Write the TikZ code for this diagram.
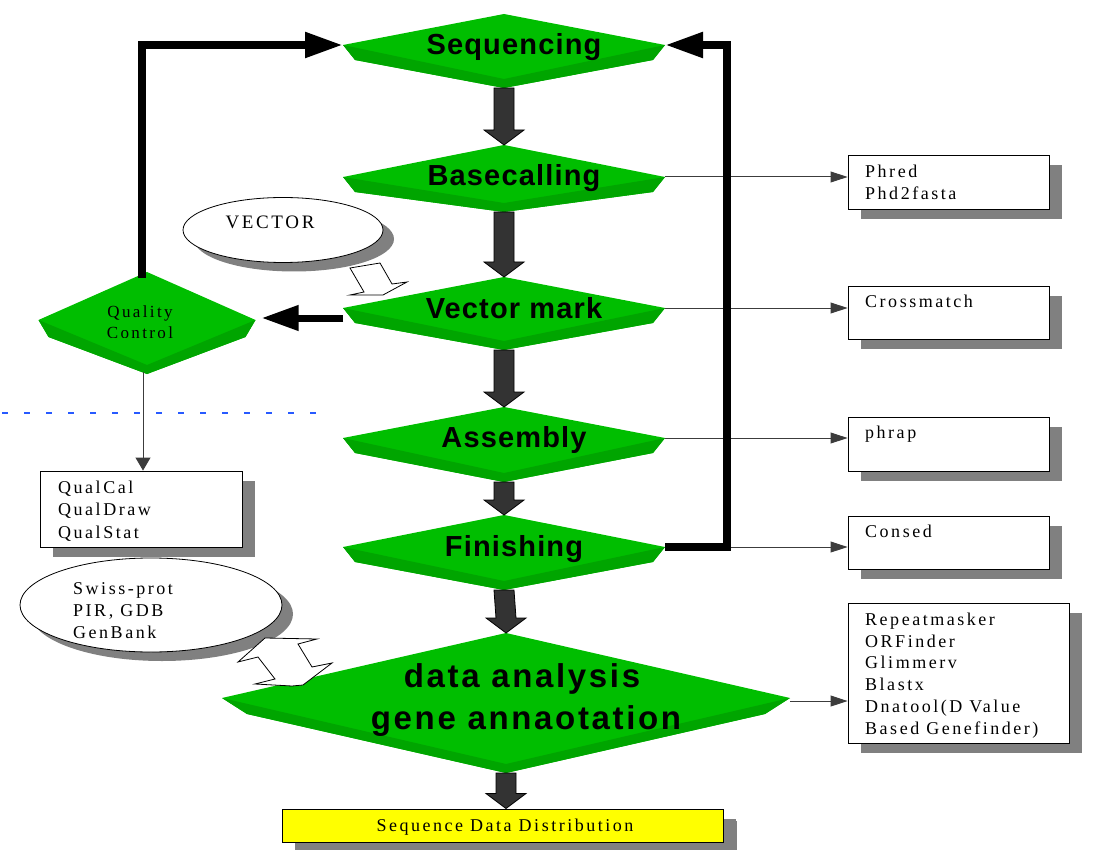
\documentclass[tikz,border=0pt]{standalone}
\usepackage{fontspec}
\setmainfont{Liberation Serif}
\newfontfamily\lsb{Liberation Sans}[LetterSpace=4]
\newfontfamily\lsbw{Liberation Sans}[LetterSpace=8]
\newfontfamily\ser{Liberation Serif}[LetterSpace=14]
\usetikzlibrary{calc,arrows.meta,shapes.geometric,shadows}
\definecolor{gmain}{RGB}{0,190,0}
\definecolor{gdark}{RGB}{0,165,0}
\definecolor{sgray}{RGB}{128,128,128}
\definecolor{agray}{RGB}{51,51,51}
\definecolor{lgray}{RGB}{60,60,60}
\definecolor{dblue}{RGB}{40,90,255}
\definecolor{ylw}{RGB}{255,255,0}
\newcommand\gdiam[8]{%
 \coordinate (#1-t) at (#2,#5);
 \coordinate (#1-b) at (#2,#6);
 \coordinate (#1-l) at ({#2-#4},#3);
 \coordinate (#1-r) at ({#2+#4},#3);
 \fill[gmain] (#1-t) -- (#1-r) -- ($(#1-r)+(-#7,#8)$) -- (#1-b) -- ($(#1-l)+(#7,#8)$) -- (#1-l) -- cycle;
 \fill[gdark] (#1-l) -- ($(#1-l)+(#7,#8)$) -- (#1-b) -- ($(#1-r)+(-#7,#8)$) -- (#1-r) -- ($(#1-b)+(0,-9)$) -- cycle;
}
\newcommand\vblock[2]{%
 \draw[blk] ($(#1)+(-10,0)$) -- ($(#1)+(10,0)$) -- ($(#2)+(10,-15)$) -- ($(#2)+(20,-15)$) -- (#2) -- ($(#2)+(-20,-15)$) -- ($(#2)+(-10,-15)$) -- cycle;
}
\begin{document}
\begin{tikzpicture}[x=1pt,y=-1pt,
  toolbox/.style={draw=black, line width=0.9pt, fill=white, rectangle, inner sep=0pt,
     drop shadow={shadow xshift=13pt, shadow yshift=-10pt, fill=sgray, opacity=1}},
  oval/.style={draw=black, line width=0.8pt, fill=white, ellipse, inner sep=0pt,
     drop shadow={shadow xshift=11pt, shadow yshift=-9pt, fill=sgray, opacity=1}},
  boxtext/.style={font=\ser\fontsize{18}{20}\selectfont, anchor=base west, inner sep=0pt},
  dlab/.style={font=\lsb\bfseries\fontsize{29}{32}\selectfont, anchor=base, inner sep=0pt},
  dlabbig/.style={font=\lsbw\bfseries\fontsize{33}{36}\selectfont, anchor=base, inner sep=0pt},
  blk/.style={fill=agray, draw=black, line width=0.8pt},
  hollow/.style={fill=white, draw=black, line width=0.8pt, line join=miter},
  thinarr/.style={draw=lgray, line width=1pt, -{Triangle[length=17pt,width=11pt]}},
  loopline/.style={draw=black, line width=8pt, -{Triangle[length=38pt,width=24pt]}},
  qcarr/.style={draw=black, line width=7pt, -{Triangle[length=37pt,width=24pt]}}
]
\useasboundingbox (0,0) rectangle (1100,850);

% ovals
\node[oval, minimum width=200pt, minimum height=65pt] (vecoval) at (283,230) {};
\node[oval, minimum width=262pt, minimum height=94pt] (dboval) at (151,605) {};

% boxes
\node[toolbox, minimum width=201pt, minimum height=54pt] (phred) at (948.5,182) {};
\node[toolbox, minimum width=201pt, minimum height=53pt] (cross) at (948.5,312.5) {};
\node[toolbox, minimum width=201pt, minimum height=54pt] (phrap) at (948.5,444) {};
\node[toolbox, minimum width=201pt, minimum height=53pt] (consed) at (948.5,542.5) {};
\node[toolbox, minimum width=221pt, minimum height=140pt] (rep) at (958.5,673) {};
\node[toolbox, minimum width=202pt, minimum height=76pt] (qual) at (141,509) {};
\node[toolbox, fill=ylw, minimum width=441pt, minimum height=33pt,
      drop shadow={shadow xshift=14pt, shadow yshift=-12pt, fill=sgray, opacity=1}] (sdd) at (502.5,825.5) {};

% diamonds
\gdiam{seq}{504}{45}{161}{14}{88}{12}{15}
\gdiam{base}{504}{177}{161}{145}{212}{12}{15}
\gdiam{vec}{504}{308}{161}{277}{350}{12}{15}
\gdiam{asm}{504}{438}{161}{407}{482}{12}{15}
\gdiam{fin}{504}{547}{161}{515}{590}{12}{15}
\gdiam{data}{506}{698}{284}{633}{773}{25}{16}
\gdiam{qc}{147}{320}{108.5}{272}{374}{10}{17}

% blue dotted line
\coordinate (bl1) at (2,413);
\coordinate (bl2) at (322,413);
\draw[dblue, line width=1.2pt, dash pattern=on 6pt off 16pt] (bl1) -- (bl2);

% block arrows between stages
\coordinate (sddtop) at (data-b |- sdd.north);
\vblock{seq-b}{base-t}
\vblock{base-b}{vec-t}
\vblock{vec-b}{asm-t}
\vblock{asm-b}{fin-t}
\vblock{fin-b}{data-t}
\vblock{data-b}{sddtop}

% thin arrows to tool boxes
\draw[thinarr] (base-r) -- (base-r -| phred.west);
\draw[thinarr] (vec-r) -- (vec-r -| cross.west);
\draw[thinarr] (asm-r) -- (asm-r -| phrap.west);
\draw[thinarr] (fin-r) -- (fin-r -| consed.west);
\coordinate (datar) at ($(data-r)+(0,3)$);
\draw[thinarr] (datar) -- (datar -| rep.west);
\coordinate (qcdn) at (143,372);
\draw[thinarr, -{Triangle[length=13pt,width=15pt]}] (qcdn) -- (qcdn |- qual.north);

% feedback loops
\coordinate (qcup) at (142,278);
\draw[loopline] (qcup) |- (seq-l);
\draw[loopline] (fin-r) -- ++(62,0) |- (seq-r);

% vector mark -> quality control
\coordinate (vqa) at (343,318);
\draw[qcarr, shorten >=6pt] (vqa) -- (vqa -| qc-r);

% hollow arrows
\coordinate (h1) at (350,268);
\draw[hollow] (h1) -- (380,263) -- (392,284) -- (407,282) -- (383,295) -- (350,295) -- (364,292) -- cycle;
\coordinate (h2) at (265,638);
\draw[hollow] (h2) -- (317,639) -- (298,644) -- (312,667) -- (332,663) -- (303,685) -- (292,686) -- (255,684) -- (275,679) -- (258,657) -- (238,662) -- cycle;

% diamond labels
\node[dlab] (seqlab) at (514,55) {Sequencing};
\node[dlab] (baselab) at (514,186) {Basecalling};
\node[dlab] (veclab) at (514,319) {Vector mark};
\node[dlab] (asmlab) at (514,447) {Assembly};
\node[dlab] (finlab) at (514,556) {Finishing};
\node[dlabbig] (datalab1) at (522,687) {data analysis};
\node[dlabbig] (datalab2) at (526,729) {gene annaotation};
\begin{scope}
\clip (0,0) rectangle (1100,337);
\node[font=\ser\fontsize{17}{20}\selectfont, inner sep=0pt] (qclab1) at (140,313) {Quality};
\node[font=\ser\fontsize{17}{20}\selectfont, inner sep=0pt] (qclab2) at (140,333) {Control};
\end{scope}

% oval texts
\node[font=\ser\fontsize{19}{20}\selectfont, inner sep=0pt] (vectxt) at (270,222) {VECTOR};
\node[boxtext] (sw1) at (73,594) {Swiss-prot};
\node[boxtext] (sw2) at (73,616) {PIR, GDB};
\node[boxtext] (sw3) at (73,638) {GenBank};

% box texts
\node[boxtext] (t1) at (865,178) {Phred};
\node[boxtext] (t2) at (865,200) {Phd2fasta};
\node[boxtext] (t3) at (865,308) {Crossmatch};
\node[boxtext] (t4) at (865,438) {phrap};
\node[boxtext] (t5) at (865,537) {Consed};
\node[boxtext] (r1) at (865,625) {Repeatmasker};
\node[boxtext] (r2) at (865,647) {ORFinder};
\node[boxtext] (r3) at (865,668) {Glimmerv};
\node[boxtext] (r4) at (865,690) {Blastx};
\node[boxtext] (r5) at (865,712) {Dnatool(D Value};
\node[boxtext] (r6) at (865,734) {Based Genefinder)};
\node[boxtext] (q1) at (58,493) {QualCal};
\node[boxtext] (q2) at (58,515) {QualDraw};
\node[boxtext] (q3) at (58,538) {QualStat};
\node[font=\ser\fontsize{18}{20}\selectfont, inner sep=0pt] (sddtxt) at (505,827) {Sequence Data Distribution};
\end{tikzpicture}
\end{document}
